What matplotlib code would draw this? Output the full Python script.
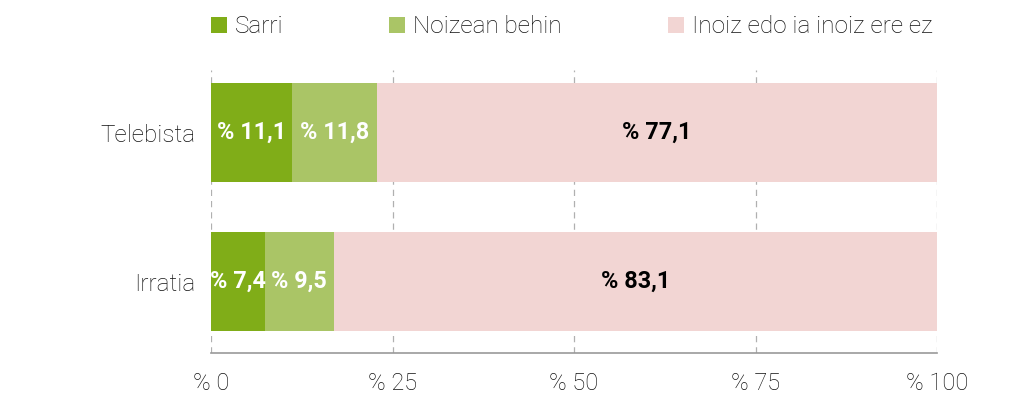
import matplotlib.pyplot as plt
import numpy as np

categories = ['Irratia', 'Telebista']
sarri = [7.4, 11.1]
noizean = [9.5, 11.8]
inoiz = [83.1, 77.1]
series_names = ['Sarri', 'Noizean behin', 'Inoiz edo ia inoiz ere ez']
tick_values = [0, 25, 50, 75, 100]

colors = ['#80ad18', '#aac566', '#f2d5d3']
label_colors = ['white', 'white', 'black']
text_color = '#111111'

plt.rcParams['font.family'] = ['Roboto', 'DejaVu Sans']

fig = plt.figure(figsize=(10.24, 4.01), dpi=100)
ax = fig.add_axes([211 / 1024, 1 - 353 / 401, (937 - 211) / 1024, (353 - 70) / 401])

y = np.arange(len(categories))
left = np.zeros(len(categories))
for name, vals, col, lcol in zip(series_names, [sarri, noizean, inoiz], colors, label_colors):
    bars = ax.barh(y, vals, left=left, height=0.664, color=col, label=name, zorder=2)
    for b, v in zip(bars, vals):
        ax.text(b.get_x() + b.get_width() / 2, b.get_y() + b.get_height() / 2,
                '% ' + f'{v:.1f}'.replace('.', ','), ha='center', va='center',
                color=lcol, fontsize=16.8, fontweight='bold', zorder=3)
    left += np.array(vals)

ax.set_xlim(0, 100)
ax.set_ylim(-0.48, 1.42)
ax.set_yticks(y)
ax.set_yticklabels(categories, fontsize=17.5, fontweight='light', color=text_color)
ax.set_xticks(tick_values)
ax.set_xticklabels(['% ' + str(t) for t in tick_values], fontsize=17, fontweight='light',
                   color=text_color)
ax.tick_params(axis='y', length=0, pad=11)
ax.tick_params(axis='x', length=0, pad=14)
ax.xaxis.grid(True, linestyle=(0, (5, 4)), color='#b0b0b0', linewidth=0.9, zorder=0)
for s in ['top', 'right', 'left']:
    ax.spines[s].set_visible(False)
ax.spines['bottom'].set_color('#999999')
ax.spines['bottom'].set_linewidth(1.2)

leg = ax.legend(loc='center left', bbox_to_anchor=(0, 1.152), ncol=3, frameon=False,
                borderpad=0, borderaxespad=0, handlelength=0.66, handleheight=0.66,
                handletextpad=0.33, columnspacing=4.35,
                prop={'family': 'Roboto', 'weight': 'light', 'size': 17.5})
for t in leg.get_texts():
    t.set_color(text_color)

plt.savefig('out.png', dpi=100)
